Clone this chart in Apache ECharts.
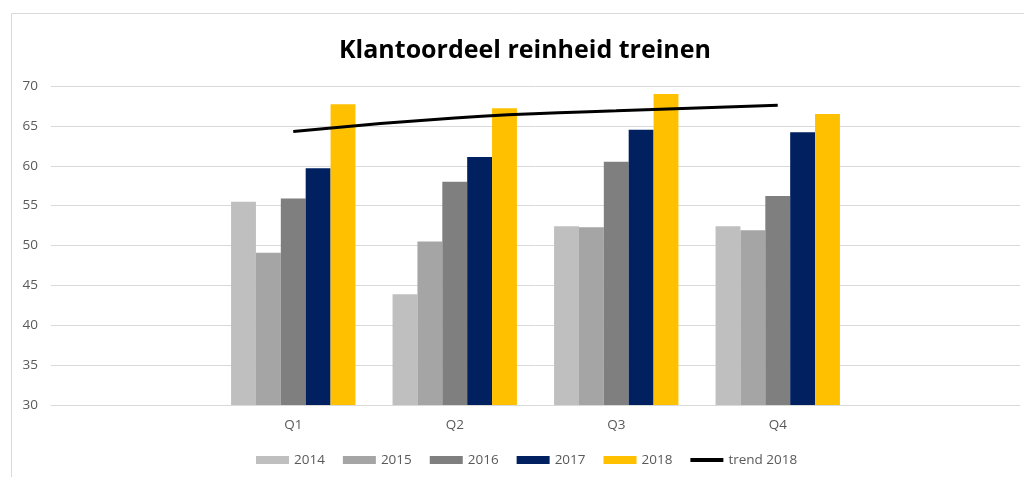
<!DOCTYPE html>
<html>
<head>
<meta charset="utf-8">
<script src="https://cdn.jsdelivr.net/npm/echarts@6/dist/echarts.min.js"></script>
<style>
html,body{margin:0;padding:0;background:#fff;}
#chart{width:1024px;height:477px;}
</style>
</head>
<body>
<div id="chart"></div>
<script>
const titleText = 'Klantoordeel reinheid treinen';
const quarters = ['Q1', 'Q2', 'Q3', 'Q4'];
const years = ['2014', '2015', '2016', '2017', '2018'];
const v2014 = [55.5, 43.9, 52.4, 52.4];
const v2015 = [49.1, 50.5, 52.3, 51.9];
const v2016 = [55.9, 58.0, 60.5, 56.2];
const v2017 = [59.7, 61.1, 64.5, 64.2];
const v2018 = [67.7, 67.2, 69.0, 66.5];
const trend2018 = [64.3, 66.0, 66.9, 67.6];
const trendName = 'trend 2018';
const yTicks = [30, 35, 40, 45, 50, 55, 60, 65, 70];

const colors = ['#bfbfbf', '#a5a5a5', '#7f7f7f', '#002060', '#ffc000'];
const FONT = '"Open Sans", "Liberation Sans", sans-serif';
const pad = arr => [null].concat(arr, [null]);
const cats = [''].concat(quarters, ['']);
const barData = [v2014, v2015, v2016, v2017, v2018];

const series = years.map((y, i) => ({
  name: y,
  type: 'bar',
  data: pad(barData[i]),
  barGap: '0%',
  barCategoryGap: '23%',
  itemStyle: { color: colors[i] },
  emphasis: { disabled: true }
}));
series.push({
  name: trendName,
  type: 'line',
  data: pad(trend2018),
  smooth: true,
  symbol: 'none',
  lineStyle: { color: '#000', width: 3 },
  itemStyle: { color: '#000' },
  z: 5
});

const chart = echarts.init(document.getElementById('chart'), null, { renderer: 'canvas' });
chart.setOption({
  animation: false,
  backgroundColor: '#fff',
  title: {
    text: titleText,
    left: 520,
    top: 33,
    textAlign: 'center',
    textStyle: { fontFamily: FONT, fontWeight: 'bold', fontSize: 25, color: '#000' }
  },
  legend: {
    data: years.map(y => ({ name: y, icon: 'rect' })).concat([{ name: trendName, icon: 'path://M0,0H33V4H0Z' }]),
    left: 256,
    top: 453,
    padding: 0,
    itemWidth: 33,
    itemHeight: 8,
    itemGap: 18,
    textStyle: { fontFamily: FONT, fontSize: 13.5, color: '#595959' }
  },
  grid: { left: 51, right: 4, top: 86, bottom: 72, containLabel: false },
  xAxis: {
    type: 'category',
    data: cats,
    axisLine: { show: true, lineStyle: { color: '#d9d9d9', width: 1 } },
    axisTick: { show: false },
    axisLabel: { fontFamily: FONT, fontSize: 13.5, color: '#595959', margin: 13 },
    splitLine: { show: false }
  },
  yAxis: {
    type: 'value',
    min: yTicks[0],
    max: yTicks[yTicks.length - 1],
    interval: 5,
    axisLine: { show: false },
    axisTick: { show: false },
    axisLabel: { fontFamily: FONT, fontSize: 13.5, color: '#595959', margin: 13 },
    splitLine: { lineStyle: { color: '#d9d9d9', width: 1 } }
  },
  graphic: [{
    type: 'rect',
    shape: { x: 11.5, y: 13.5, width: 1040, height: 500 },
    style: { fill: 'none', stroke: '#d9d9d9', lineWidth: 1 },
    silent: true,
    z: -10
  }],
  series: series
});
</script>
</body>
</html>
